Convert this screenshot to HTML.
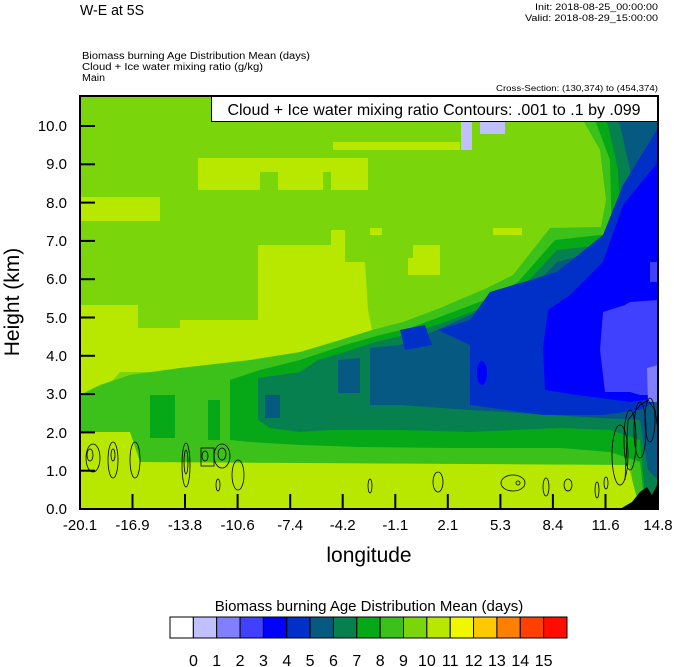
<!DOCTYPE html>
<html><head><meta charset="utf-8"><style>
html,body{margin:0;padding:0;background:#fff;}
svg{display:block;font-family:"Liberation Sans",sans-serif;}
</style></head><body>
<svg width="674" height="667" viewBox="0 0 674 667" xmlns="http://www.w3.org/2000/svg">
<defs><clipPath id="pc"><rect x="80" y="96" width="578" height="413"/></clipPath></defs>
<rect width="674" height="667" fill="#fff"/>
<text x="80" y="15" font-size="15" textLength="64" lengthAdjust="spacingAndGlyphs">W-E at 5S</text>
<text x="535" y="10" font-size="9" textLength="123" lengthAdjust="spacingAndGlyphs">Init: 2018-08-25_00:00:00</text>
<text x="525" y="21" font-size="9" textLength="133" lengthAdjust="spacingAndGlyphs">Valid: 2018-08-29_15:00:00</text>
<text x="82" y="59" font-size="10" textLength="228" lengthAdjust="spacingAndGlyphs">Biomass burning Age Distribution Mean   (days)</text>
<text x="82" y="70" font-size="10" textLength="181" lengthAdjust="spacingAndGlyphs">Cloud + Ice water mixing ratio   (g/kg)</text>
<text x="82" y="81" font-size="10" textLength="23" lengthAdjust="spacingAndGlyphs">Main</text>
<text x="496" y="91" font-size="8" textLength="162" lengthAdjust="spacingAndGlyphs">Cross-Section: (130,374) to (454,374)</text>

<g clip-path="url(#pc)">
<rect x="80" y="96" width="578" height="413" fill="#7ad60a"/>
<g fill="#b8e800">
<rect x="80" y="197" width="80" height="24"/>
<rect x="198" y="158" width="170" height="32"/>
<rect x="298" y="158" width="35" height="8"/>
<rect x="333" y="142" width="127" height="8"/>
<rect x="370" y="228" width="12" height="7"/>
<rect x="493" y="228" width="29" height="7"/>
<rect x="408" y="258" width="32" height="17"/>
<rect x="413" y="245" width="27" height="15"/>
</g>
<g fill="#7ad60a">
<rect x="260" y="172" width="18" height="18"/>
<rect x="323" y="172" width="8" height="18"/>
</g>
<rect x="480" y="121" width="25" height="13" fill="#c0c0ff"/>
<rect x="461" y="121" width="11" height="29" fill="#c0c0ff"/>
<polygon fill="#b8e800" points="80,305 138,305 138,328 180,328 180,320 258,320 258,245 331,245 331,230 345,230 345,262 365,262 368,310 372,330 330,352 300,362 250,365 200,370 150,372 120,372 100,395 80,395"/>
<polygon fill="#3cc01a" points="80,395 100,385 130,375 180,368 250,360 300,352 340,340 372,330 403,322 440,308 487,288 513,275 550,228 597,227 658,227 658,509 637,509 630,465 80,462"/>
<polygon fill="#b8e800" points="80,432 130,432 140,462 628,465 640,509 80,509"/>
<polygon fill="#07a817" points="150,395 175,395 175,438 150,438"/>
<polygon fill="#07a817" points="208,400 220,400 220,440 208,440"/>
<polygon fill="#07a817" points="230,380 260,370 300,360 345,345 380,335 410,328 445,315 490,298 518,282 555,240 600,235 658,235 658,509 645,509 640,462 610,452 560,448 450,448 360,447 300,445 250,442 230,440"/>
<polygon fill="#078050" points="258,378 300,372 318,360 345,352 375,342 405,335 445,322 490,305 520,290 557,250 603,245 658,240 658,495 645,495 640,440 610,430 560,428 470,432 400,430 330,430 300,432 270,428 258,420"/>
<polygon fill="#3cc01a" points="553,96 553,120 583,120 600,150 606,200 600,232 658,232 658,96"/>
<polygon fill="#07a817" points="575,96 595,120 610,160 612,240 658,240 658,96"/>
<polygon fill="#078050" points="592,96 608,125 618,170 622,245 658,245 658,96"/>
<polygon fill="#065a82" points="603,96 620,125 630,170 635,245 658,245 658,96"/>
<polygon fill="#065a82" points="265,395 280,395 280,418 265,418"/>
<polygon fill="#065a82" points="338,360 360,358 360,393 338,393"/>
<polygon fill="#065a82" points="370,348 400,345 437,330 470,315 500,300 530,290 557,262 603,250 620,200 630,175 658,175 658,480 648,470 640,420 600,418 470,410 400,405 370,405"/>
<polygon fill="#0030c8" points="438,330 470,320 490,292 557,272 603,235 623,185 658,128 658,400 640,410 603,415 543,415 470,405 470,345"/>
<polygon fill="#0030c8" points="400,330 425,325 432,345 405,350"/>
<polygon fill="#0000ff" points="543,348 548,310 570,295 603,262 623,205 658,162 658,398 630,402 577,395 545,390"/>
<ellipse cx="482" cy="373" rx="5" ry="12" fill="#0000ff"/>
<polygon fill="#4040ff" points="603,312 625,305 630,302 658,300 658,395 640,395 630,392 605,392 600,350"/>
<rect x="650" y="262" width="8" height="20" fill="#4040ff"/>
<polygon fill="#8080ff" points="647,368 658,365 658,402 648,402"/>
<polygon fill="#000" points="620,509 632,502 640,492 647,487 652,495 658,483 658,509"/>
<g fill="none" stroke="#000" stroke-width="0.8">
<ellipse cx="93" cy="458" rx="7" ry="14"/><ellipse cx="90" cy="455" rx="3" ry="6"/>
<ellipse cx="113" cy="460" rx="5" ry="18"/><ellipse cx="113" cy="455" rx="2" ry="6"/>
<ellipse cx="135" cy="460" rx="5" ry="18"/>
<ellipse cx="186" cy="465" rx="4" ry="22"/><ellipse cx="186" cy="462" rx="2" ry="12"/>
<rect x="201" y="448" width="13" height="18"/><ellipse cx="205" cy="456" rx="3" ry="5"/>
<ellipse cx="222" cy="456" rx="8" ry="12"/><ellipse cx="222" cy="454" rx="4" ry="6"/>
<ellipse cx="238" cy="475" rx="6" ry="15"/><ellipse cx="218" cy="485" rx="2" ry="6"/>
<ellipse cx="370" cy="486" rx="2" ry="7"/>
<ellipse cx="438" cy="482" rx="5" ry="10"/>
<ellipse cx="513" cy="483" rx="12" ry="8"/><ellipse cx="518" cy="483" rx="2" ry="2"/>
<ellipse cx="546" cy="487" rx="3" ry="9"/><ellipse cx="568" cy="485" rx="4" ry="6"/>
<ellipse cx="597" cy="490" rx="2" ry="8"/><ellipse cx="606" cy="483" rx="2" ry="6"/>
<ellipse cx="620" cy="455" rx="8" ry="30"/><ellipse cx="630" cy="440" rx="6" ry="30"/>
<ellipse cx="640" cy="430" rx="6" ry="28"/><ellipse cx="650" cy="420" rx="5" ry="22"/>
<path d="M625,480 L628,420 L640,405 L648,400 L655,410 L658,430"/>
</g>
</g>
<rect x="211.5" y="96.5" width="446" height="25" fill="#fff" stroke="#000"/>
<text x="434" y="115" font-size="16" text-anchor="middle">Cloud + Ice water mixing ratio Contours: .001 to .1 by .099</text>
<rect x="80" y="96" width="578" height="413" fill="none" stroke="#000" stroke-width="2"/>
<g stroke="#000" stroke-width="2">
<line x1="80" y1="126" x2="95" y2="126"/><line x1="80" y1="164.3" x2="95" y2="164.3"/>
<line x1="80" y1="202.6" x2="95" y2="202.6"/><line x1="80" y1="240.9" x2="95" y2="240.9"/>
<line x1="80" y1="279.2" x2="95" y2="279.2"/><line x1="80" y1="317.5" x2="95" y2="317.5"/>
<line x1="80" y1="355.8" x2="95" y2="355.8"/><line x1="80" y1="394.1" x2="95" y2="394.1"/>
<line x1="80" y1="432.4" x2="95" y2="432.4"/><line x1="80" y1="470.7" x2="95" y2="470.7"/>
<line x1="132.5" y1="509" x2="132.5" y2="494"/><line x1="185" y1="509" x2="185" y2="494"/>
<line x1="237.6" y1="509" x2="237.6" y2="494"/><line x1="290.2" y1="509" x2="290.2" y2="494"/>
<line x1="342.7" y1="509" x2="342.7" y2="494"/><line x1="395.3" y1="509" x2="395.3" y2="494"/>
<line x1="447.8" y1="509" x2="447.8" y2="494"/><line x1="500.4" y1="509" x2="500.4" y2="494"/>
<line x1="552.9" y1="509" x2="552.9" y2="494"/><line x1="605.5" y1="509" x2="605.5" y2="494"/>
</g>
<g font-size="15" text-anchor="end">
<text x="67" y="131">10.0</text><text x="67" y="169">9.0</text><text x="67" y="208">8.0</text>
<text x="67" y="246">7.0</text><text x="67" y="284">6.0</text><text x="67" y="323">5.0</text>
<text x="67" y="361">4.0</text><text x="67" y="399">3.0</text><text x="67" y="438">2.0</text>
<text x="67" y="476">1.0</text><text x="67" y="514">0.0</text>
</g>
<g font-size="15" text-anchor="middle">
<text x="80" y="530">-20.1</text><text x="132.5" y="530">-16.9</text><text x="185" y="530">-13.8</text>
<text x="237.6" y="530">-10.6</text><text x="290.2" y="530">-7.4</text><text x="342.7" y="530">-4.2</text>
<text x="395.3" y="530">-1.1</text><text x="447.8" y="530">2.1</text><text x="500.4" y="530">5.3</text>
<text x="552.9" y="530">8.4</text><text x="605.5" y="530">11.6</text><text x="658" y="530">14.8</text>
</g>
<text x="369" y="562" font-size="21" text-anchor="middle">longitude</text>
<text transform="translate(19,302) rotate(-90)" font-size="21" text-anchor="middle">Height (km)</text>
<text x="369" y="611" font-size="15" text-anchor="middle">Biomass burning Age Distribution Mean  (days)</text>
<g stroke="#000" stroke-width="1">
<rect x="170" y="617" width="23.35" height="21" fill="#fff"/>
<rect x="193.35" y="617" width="23.35" height="21" fill="#c0c0ff"/>
<rect x="216.7" y="617" width="23.35" height="21" fill="#8080ff"/>
<rect x="240.05" y="617" width="23.35" height="21" fill="#4040ff"/>
<rect x="263.4" y="617" width="23.35" height="21" fill="#0000ff"/>
<rect x="286.75" y="617" width="23.35" height="21" fill="#0030c8"/>
<rect x="310.1" y="617" width="23.35" height="21" fill="#065a82"/>
<rect x="333.45" y="617" width="23.35" height="21" fill="#078050"/>
<rect x="356.8" y="617" width="23.35" height="21" fill="#07a817"/>
<rect x="380.15" y="617" width="23.35" height="21" fill="#3cc01a"/>
<rect x="403.5" y="617" width="23.35" height="21" fill="#7ad60a"/>
<rect x="426.85" y="617" width="23.35" height="21" fill="#b8e800"/>
<rect x="450.2" y="617" width="23.35" height="21" fill="#f0f800"/>
<rect x="473.55" y="617" width="23.35" height="21" fill="#ffc800"/>
<rect x="496.9" y="617" width="23.35" height="21" fill="#ff8000"/>
<rect x="520.25" y="617" width="23.35" height="21" fill="#ff4000"/>
<rect x="543.6" y="617" width="23.4" height="21" fill="#ff0d00"/>
</g>
<g font-size="16" text-anchor="middle">
<text x="193.4" y="666">0</text><text x="216.7" y="666">1</text><text x="240.1" y="666">2</text>
<text x="263.4" y="666">3</text><text x="286.8" y="666">4</text><text x="310.1" y="666">5</text>
<text x="333.5" y="666">6</text><text x="356.8" y="666">7</text><text x="380.2" y="666">8</text>
<text x="403.5" y="666">9</text><text x="426.9" y="666">10</text><text x="450.2" y="666">11</text>
<text x="473.6" y="666">12</text><text x="496.9" y="666">13</text><text x="520.3" y="666">14</text>
<text x="543.6" y="666">15</text>
</g>
</svg>
</body></html>
